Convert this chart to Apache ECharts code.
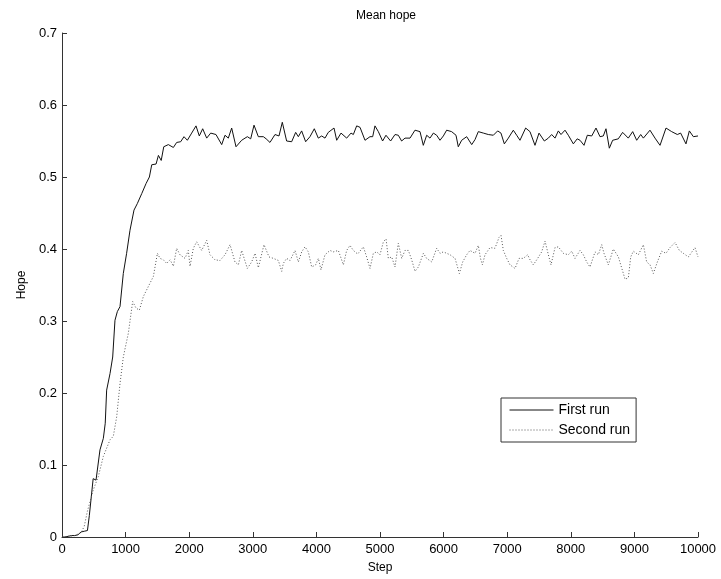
<!DOCTYPE html>
<html>
<head>
<meta charset="utf-8">
<script src="https://cdn.jsdelivr.net/npm/echarts@6/dist/echarts.min.js"></script>
<style>
html,body{margin:0;padding:0;background:#fff;}
#chart{width:721px;height:579px;}
</style>
</head>
<body>
<div id="chart"></div>
<script>
var chartTitle = 'Mean hope';
var xName = 'Step';
var yName = 'Hope';
var seriesNames = ['First run', 'Second run'];

// [step, hope]
var firstRun = [
[0,0],[50,0],[100,0.001],[150,0.002],[200,0.002],[250,0.003],[300,0.007],[350,0.008],[400,0.009],[430,0.03],
[490,0.081],[535,0.079],[597,0.121],[650,0.137],[680,0.158],[702,0.204],[755,0.227],[797,0.25],[833,0.301],[870,0.313],
[912,0.32],[964,0.366],[1016,0.394],[1069,0.426],[1132,0.454],[1184,0.463],[1254,0.477],[1322,0.491],[1374,0.5],[1411,0.517],
[1479,0.518],[1516,0.53],[1560,0.523],[1600,0.542],[1672,0.545],[1751,0.541],[1803,0.548],[1866,0.549],[1918,0.556],[1971,0.551],
[2039,0.561],[2107,0.571],[2159,0.557],[2212,0.567],[2275,0.554],[2338,0.561],[2421,0.559],[2511,0.545],[2563,0.558],[2615,0.554],
[2668,0.568],[2736,0.542],[2825,0.551],[2914,0.556],[2967,0.553],[3019,0.572],[3087,0.556],[3166,0.556],[3210,0.553],[3270,0.548],
[3349,0.559],[3412,0.557],[3464,0.576],[3532,0.55],[3611,0.549],[3674,0.562],[3716,0.556],[3768,0.564],[3831,0.549],[3899,0.556],
[3967,0.567],[4030,0.554],[4083,0.557],[4135,0.554],[4187,0.562],[4277,0.568],[4319,0.551],[4387,0.561],[4476,0.554],[4544,0.561],
[4581,0.559],[4633,0.571],[4686,0.569],[4764,0.551],[4843,0.556],[4885,0.556],[4921,0.571],[4974,0.563],[5041,0.55],[5094,0.558],
[5167,0.55],[5236,0.559],[5288,0.558],[5340,0.55],[5393,0.554],[5472,0.554],[5550,0.565],[5629,0.563],[5681,0.544],[5734,0.558],
[5786,0.554],[5839,0.561],[5891,0.558],[5943,0.551],[5996,0.557],[6048,0.565],[6126,0.563],[6195,0.558],[6231,0.542],[6284,0.551],
[6363,0.556],[6442,0.545],[6494,0.552],[6546,0.563],[6625,0.561],[6703,0.559],[6782,0.558],[6850,0.564],[6902,0.561],[6955,0.546],
[7018,0.554],[7096,0.565],[7149,0.558],[7201,0.551],[7290,0.568],[7358,0.563],[7437,0.544],[7500,0.561],[7584,0.55],[7647,0.554],
[7699,0.559],[7752,0.554],[7804,0.564],[7846,0.559],[7909,0.565],[7961,0.558],[8040,0.546],[8100,0.553],[8145,0.551],[8208,0.544],
[8260,0.558],[8329,0.557],[8396,0.568],[8459,0.556],[8511,0.557],[8553,0.567],[8606,0.54],[8658,0.551],[8747,0.553],[8815,0.562],
[8904,0.554],[8973,0.563],[9036,0.551],[9099,0.559],[9141,0.554],[9245,0.565],[9324,0.554],[9403,0.544],[9497,0.568],[9586,0.563],
[9675,0.559],[9727,0.561],[9811,0.546],[9864,0.564],[9927,0.556],[10000,0.557]
];

var secondRun = [
[0,0],[100,0.001],[200,0.002],[300,0.006],[350,0.015],[400,0.036],[490,0.065],[571,0.084],[650,0.112],[755,0.135],
[807,0.14],[860,0.167],[912,0.213],[964,0.25],[1043,0.283],[1111,0.327],[1164,0.318],[1216,0.315],[1279,0.334],[1358,0.348],
[1437,0.362],[1500,0.394],[1541,0.387],[1593,0.385],[1646,0.38],[1700,0.385],[1751,0.376],[1803,0.401],[1855,0.392],[1934,0.387],
[1986,0.398],[2013,0.376],[2065,0.401],[2117,0.41],[2196,0.398],[2275,0.412],[2327,0.392],[2406,0.385],[2484,0.384],[2563,0.392],
[2642,0.406],[2720,0.382],[2773,0.378],[2825,0.398],[2914,0.373],[2982,0.382],[3035,0.394],[3087,0.374],[3176,0.406],[3255,0.389],
[3323,0.387],[3402,0.384],[3454,0.369],[3480,0.38],[3533,0.387],[3585,0.384],[3664,0.398],[3716,0.382],[3769,0.396],[3821,0.403],
[3873,0.396],[3926,0.375],[3989,0.378],[4031,0.387],[4072,0.371],[4135,0.392],[4214,0.398],[4266,0.396],[4345,0.398],[4424,0.378],
[4476,0.398],[4528,0.405],[4581,0.398],[4649,0.393],[4738,0.403],[4790,0.389],[4843,0.373],[4895,0.394],[4948,0.396],[5000,0.392],
[5053,0.41],[5095,0.414],[5131,0.387],[5184,0.389],[5236,0.375],[5288,0.408],[5341,0.387],[5393,0.398],[5446,0.398],[5498,0.385],
[5551,0.369],[5603,0.375],[5682,0.394],[5734,0.387],[5813,0.382],[5891,0.401],[5944,0.394],[5996,0.396],[6101,0.392],[6180,0.387],
[6248,0.366],[6300,0.382],[6363,0.392],[6415,0.398],[6494,0.394],[6546,0.405],[6580,0.387],[6610,0.378],[6651,0.392],[6730,0.402],
[6808,0.401],[6871,0.416],[6903,0.419],[6939,0.398],[6992,0.387],[7044,0.378],[7123,0.373],[7186,0.387],[7254,0.387],[7322,0.392],
[7359,0.385],[7411,0.378],[7479,0.387],[7542,0.396],[7595,0.411],[7647,0.392],[7689,0.378],[7752,0.402],[7804,0.403],[7883,0.394],
[7961,0.392],[8014,0.397],[8066,0.387],[8145,0.398],[8197,0.392],[8250,0.382],[8302,0.375],[8381,0.396],[8433,0.392],[8486,0.406],
[8522,0.394],[8590,0.378],[8669,0.4],[8748,0.389],[8816,0.369],[8853,0.358],[8905,0.36],[8942,0.389],[8984,0.397],[9062,0.392],
[9141,0.406],[9193,0.382],[9246,0.378],[9298,0.366],[9361,0.382],[9429,0.397],[9497,0.394],[9560,0.402],[9639,0.409],[9707,0.398],
[9770,0.394],[9848,0.389],[9953,0.402],[10000,0.389]
];

var FONT = '"Liberation Sans", Arial, Helvetica, sans-serif';
var chart = echarts.init(document.getElementById('chart'), null, {renderer: 'canvas'});
chart.setOption({
  animation: false,
  backgroundColor: '#fff',
  textStyle: {fontFamily: FONT},
  title: {
    text: chartTitle,
    left: 381, top: 5, textAlign: 'center',
    textStyle: {fontFamily: FONT, fontSize: 12, fontWeight: 'normal', color: '#000'}
  },
  grid: {left: 62, right: 23, top: 33, bottom: 42, containLabel: false},
  legend: {
    orient: 'vertical',
    left: 501, top: 398,
    padding: [5, 6, 5, 8],
    itemGap: 6,
    itemWidth: 44, itemHeight: 14,
    borderColor: '#333', borderWidth: 1,
    backgroundColor: '#fff',
    itemStyle: {opacity: 0},
    lineStyle: {width: 1},
    textStyle: {fontFamily: FONT, fontSize: 14, color: '#000'},
    data: [{name: seriesNames[0]}, {name: seriesNames[1]}]
  },
  xAxis: {
    type: 'value', min: 0, max: 10000, interval: 1000,
    name: xName, nameLocation: 'middle', nameGap: 25,
    nameTextStyle: {fontFamily: FONT, fontSize: 12, color: '#000'},
    axisLine: {show: true, onZero: false, lineStyle: {color: '#333', width: 1}},
    axisTick: {show: true, inside: true, length: 5, lineStyle: {color: '#333'}},
    axisLabel: {fontFamily: FONT, fontSize: 13, color: '#000', margin: 6,
      formatter: function (v) { return String(v); }},
    splitLine: {show: false}
  },
  yAxis: {
    type: 'value', min: 0, max: 0.7, interval: 0.1,
    name: yName, nameLocation: 'middle', nameGap: 31, nameRotate: 90,
    nameTextStyle: {fontFamily: FONT, fontSize: 12, color: '#000'},
    axisLine: {show: true, onZero: false, lineStyle: {color: '#333', width: 1}},
    axisTick: {show: true, inside: true, length: 5, lineStyle: {color: '#333'}},
    axisLabel: {fontFamily: FONT, fontSize: 13, color: '#000', margin: 5,
      formatter: function (v) { return String(Math.round(v * 10) / 10); }},
    splitLine: {show: false}
  },
  series: [
    {
      name: seriesNames[0], type: 'line', data: firstRun,
      symbol: 'none', showSymbol: false,
      lineStyle: {color: '#111', width: 1, type: 'solid'},
      itemStyle: {color: '#111'}
    },
    {
      name: seriesNames[1], type: 'line', data: secondRun,
      symbol: 'none', showSymbol: false,
      lineStyle: {color: '#555', width: 1, type: [1, 2]},
      itemStyle: {color: '#555'}
    }
  ]
});
</script>
</body>
</html>
